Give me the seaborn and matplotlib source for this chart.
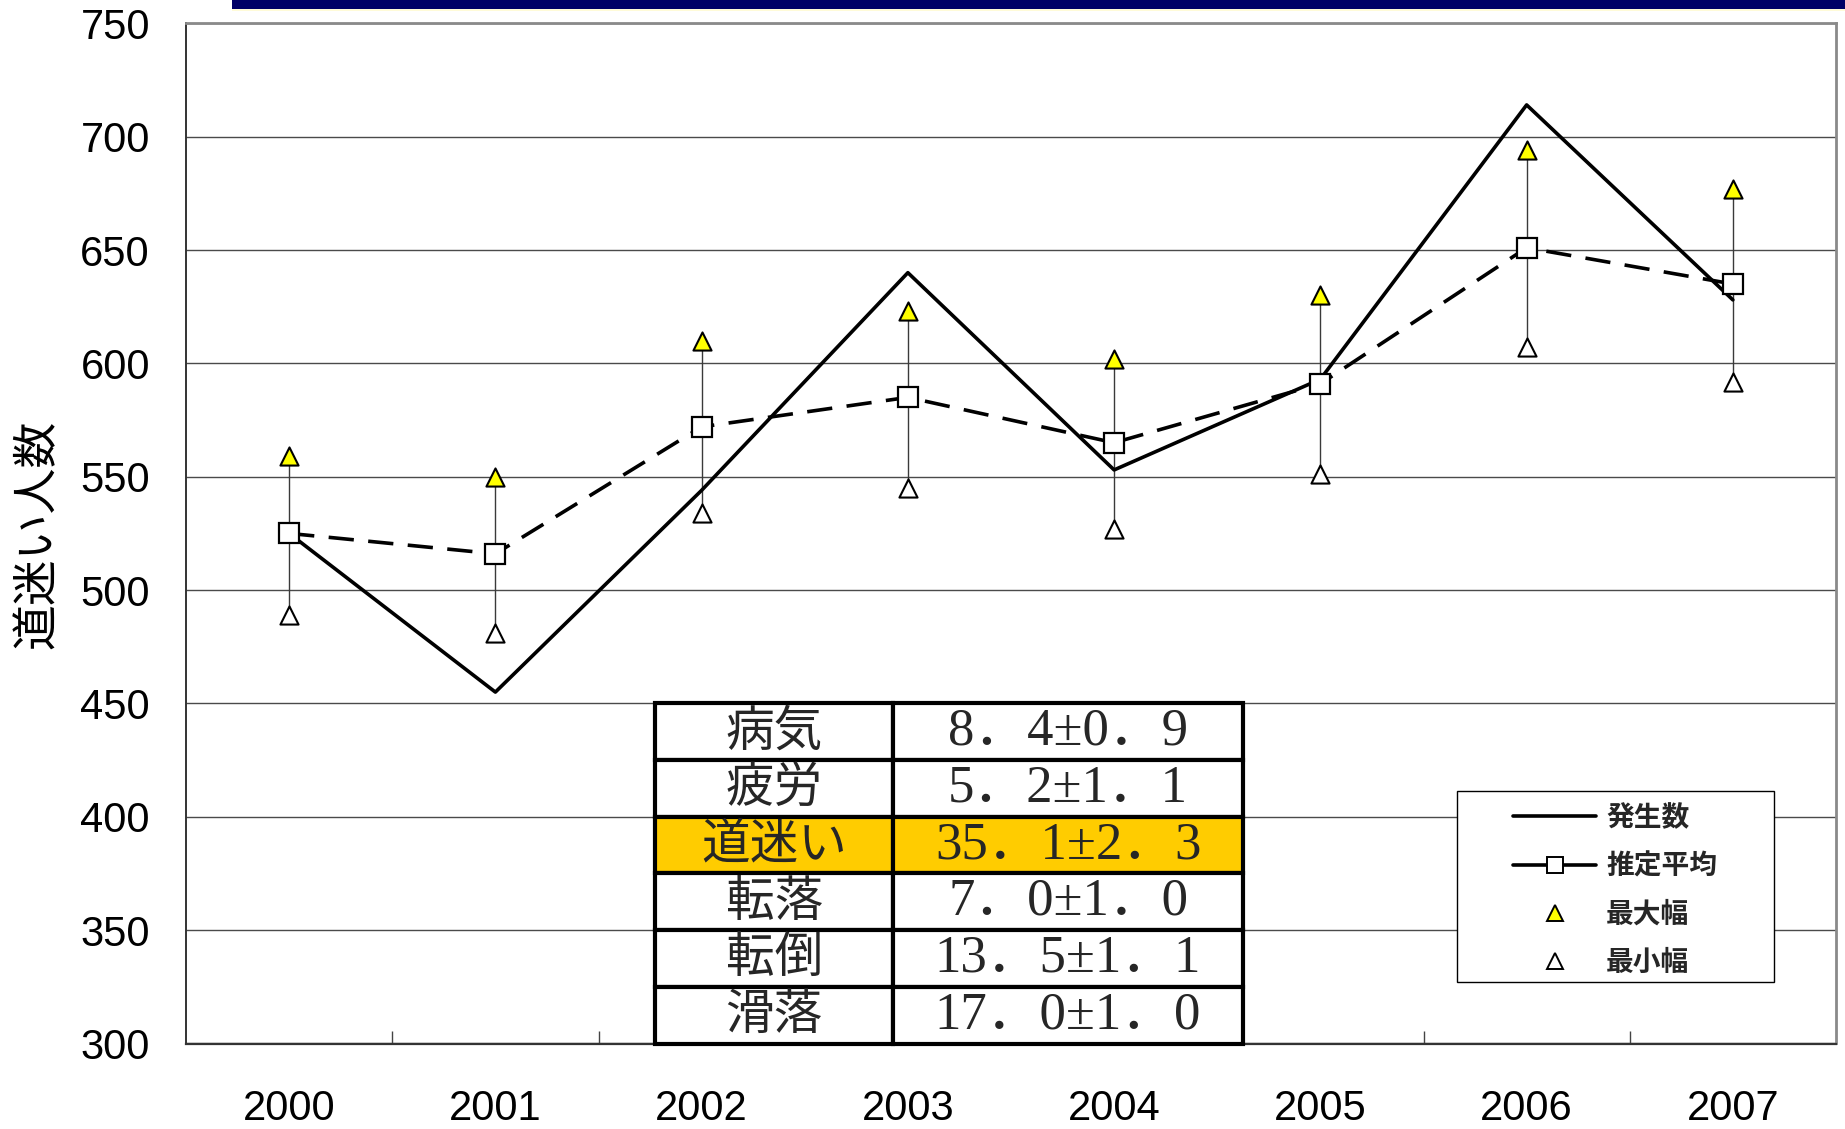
import numpy as np
import pandas as pd
import matplotlib
matplotlib.use("Agg")
import matplotlib.pyplot as plt
from matplotlib.lines import Line2D
from matplotlib.patches import Rectangle
import seaborn as sns

# --- data -------------------------------------------------------------
years = ["2000", "2001", "2002", "2003", "2004", "2005", "2006", "2007"]
occurrences = [525, 455, 544, 640, 553, 593, 714, 628]        # 発生数
estimated_mean = [525, 516, 572, 585, 565, 591, 651, 635]     # 推定平均
upper_bound = [559, 550, 610, 623, 602, 630, 694, 677]        # 最大幅
lower_bound = [489, 481, 534, 545, 527, 551, 607, 592]        # 最小幅

causes = ["病気", "疲労", "道迷い", "転落", "転倒", "滑落"]
rates = ["8．4±0．9", "5．2±1．1", "35．1±2．3", "7．0±1．0", "13．5±1．1", "17．0±1．0"]
highlight = "道迷い"

y_ticks = [300, 350, 400, 450, 500, 550, 600, 650, 700, 750]

# --- style ------------------------------------------------------------
sns.set_theme(style="white")
plt.rcParams["font.family"] = ["Liberation Sans", "Noto Sans CJK JP"]
JP = ["Noto Sans CJK JP", "DejaVu Sans"]

W, H = 1845, 1129
fig = plt.figure(figsize=(W / 100, H / 100), dpi=100)
ax_l, ax_r, ax_t, ax_b = 186, 1836, 23.3, 1043.5
ax = fig.add_axes([ax_l / W, 1 - ax_b / H, (ax_r - ax_l) / W, (ax_b - ax_t) / H])

df = pd.DataFrame({
    "pos": np.arange(len(years)),
    "occurrences": occurrences,
    "mean": estimated_mean,
    "upper": upper_bound,
    "lower": lower_bound,
})

# range bars between the two triangle series
ax.vlines(df["pos"], df["lower"], df["upper"], color="#3a3a3a", lw=1.0, zorder=2)

sns.lineplot(data=df, x="pos", y="occurrences", ax=ax, color="black", lw=2.6,
             zorder=3, legend=False)
sns.lineplot(data=df, x="pos", y="mean", ax=ax, color="black", lw=2.6,
             linestyle=(0, (7, 4)), marker="s", markersize=14,
             markerfacecolor="white", markeredgecolor="black", markeredgewidth=1.6,
             zorder=4, legend=False)
sns.scatterplot(data=df, x="pos", y="upper", ax=ax, marker="^", s=170,
                color="#FFFF00", edgecolor="black", linewidth=1.5, zorder=5, legend=False)
sns.scatterplot(data=df, x="pos", y="lower", ax=ax, marker="^", s=170,
                color="white", edgecolor="black", linewidth=1.5, zorder=5, legend=False)

# --- axes -------------------------------------------------------------
ax.set_xlim(-0.5, len(years) - 0.5)
ax.set_ylim(300, 750)
ax.set_yticks(y_ticks)
ax.set_yticklabels([str(v) for v in y_ticks])
ax.set_xticks(np.arange(len(years)))
ax.set_xticklabels(years)
ax.set_xticks(np.arange(len(years) - 1) + 0.5, minor=True)
ax.set_xlabel("")
ax.set_ylabel("")

ax.tick_params(axis="y", which="major", direction="in", length=10, width=1.2,
               color="#333333", pad=26, labelsize=30, labelcolor="black")
ax.tick_params(axis="x", which="major", length=0, pad=33, labelsize=30,
               labelcolor="black")
ax.tick_params(axis="x", which="minor", direction="in", length=9.5, width=1.0,
               color="#444444", bottom=True)

ax.yaxis.grid(True, color="#4a4a4a", lw=1.0)
ax.set_axisbelow(True)

for side in ("top", "right"):
    ax.spines[side].set_color("#8a8a8a")
    ax.spines[side].set_linewidth(2.0)
ax.spines["left"].set_color("#333333")
ax.spines["left"].set_linewidth(1.4)
ax.spines["bottom"].set_color("#333333")
ax.spines["bottom"].set_linewidth(1.6)

fig.text(37.5 / W, 1 - 534 / H, "道迷い人数", rotation=90, ha="center", va="center",
         fontsize=33, family=JP, color="black")

# band across the top of the figure
fig.add_artist(Rectangle((232 / W, 1 - 9.5 / H), 1 - 232 / W, 9.5 / H,
                         transform=fig.transFigure, facecolor="#000066",
                         edgecolor="none", zorder=10))
fig.add_artist(Rectangle((232 / W, 1 - 11 / H), 1 - 232 / W, 1.5 / H,
                         transform=fig.transFigure, facecolor="#FFFBD8",
                         edgecolor="none", zorder=10))

# --- cause table ------------------------------------------------------
pw = ax_r - ax_l
t_x0 = (655 - ax_l) / pw
t_x1 = (1242.6 - ax_l) / pw
t_mid = (893.4 - ax_l) / pw
cell_colours = [["#FFCC00" if c == highlight else "white"] * 2 for c in causes]
tbl = ax.table(cellText=[[c, r] for c, r in zip(causes, rates)],
               cellColours=cell_colours, cellLoc="center",
               colWidths=[t_mid - t_x0, t_x1 - t_mid],
               bbox=[t_x0, 0.0, t_x1 - t_x0, 150 / 450])
tbl.auto_set_font_size(False)
tbl.set_zorder(6)
for (r, c), cell in tbl.get_celld().items():
    cell.set_linewidth(3.0)
    cell.set_edgecolor("black")
    cell.set_clip_on(False)
    txt = cell.get_text()
    if c == 0:
        txt.set_fontsize(35)
        txt.set_fontfamily(JP)
    else:
        txt.set_fontsize(38)
        txt.set_fontfamily(["Liberation Serif", "Noto Sans CJK JP"])

# --- legend -----------------------------------------------------------
leg_x0, leg_x1, leg_y0, leg_y1 = 1457, 1774, 791, 982
ph = ax_b - ax_t
ax.add_patch(Rectangle(((leg_x0 - ax_l) / pw, (ax_b - leg_y1) / ph),
                       (leg_x1 - leg_x0) / pw, (leg_y1 - leg_y0) / ph,
                       transform=ax.transAxes, facecolor="white",
                       edgecolor="black", lw=1.0, zorder=7))
handles = [
    Line2D([], [], color="black", lw=2.6),
    Line2D([], [], color="black", lw=2.6, marker="s",
           markersize=12, markerfacecolor="white", markeredgecolor="black",
           markeredgewidth=1.4),
    Line2D([], [], linestyle="none", marker="^", markersize=12,
           markerfacecolor="#FFFF00", markeredgecolor="black", markeredgewidth=1.4),
    Line2D([], [], linestyle="none", marker="^", markersize=12,
           markerfacecolor="white", markeredgecolor="black", markeredgewidth=1.4),
]
labels = ["発生数", "推定平均", "最大幅", "最小幅"]
leg = ax.legend(handles, labels, loc="upper left",
                bbox_to_anchor=((1513 - ax_l) / pw, (ax_b - 804) / ph),
                frameon=False, borderpad=0, borderaxespad=0,
                handlelength=3.0, handletextpad=0.35, labelspacing=0.73,
                prop={"family": JP, "size": 20, "weight": "bold"})
leg.set_zorder(8)

fig.savefig("out.png", dpi=100)
